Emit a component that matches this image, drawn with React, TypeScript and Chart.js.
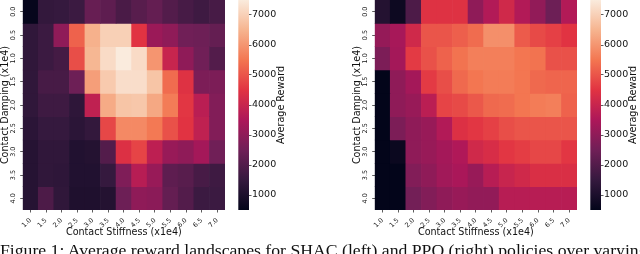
import React, { useEffect, useRef } from "react";
import { Chart, registerables } from "chart.js";

Chart.register(...registerables);

// ---------- data ----------
const stiffnessLabels = ["1.0", "1.5", "2.0", "2.5", "3.0", "3.5", "4.0", "4.5", "5.0", "5.5", "6.0", "6.5", "7.0"];
const dampingLabels = ["0.0", "0.5", "1.0", "1.5", "2.0", "2.5", "3.0", "3.5", "4.0"];
const colorbarTicks = [1000, 2000, 3000, 4000, 5000, 6000, 7000];
const rewardMin = 500;
const rewardMax = 7500;

// SHAC (left): rows = contact damping, columns = contact stiffness
const shacRewards = [
  [550, 1450, 1500, 1600, 2350, 2200, 1850, 2100, 2300, 2000, 1800, 1650, 1800],
  [1400, 1600, 3000, 5200, 6450, 7000, 7000, 4500, 3200, 3000, 2500, 2450, 2300],
  [1400, 1600, 1750, 4900, 6550, 7200, 7500, 7200, 6000, 4000, 3000, 2500, 2000],
  [1400, 1800, 1800, 2450, 6150, 6900, 7250, 7250, 6800, 5350, 4450, 2700, 2700],
  [1400, 1650, 1650, 1350, 3850, 6350, 6800, 6850, 6300, 5600, 4550, 3750, 2800],
  [1300, 1500, 1500, 1300, 1450, 4800, 5800, 5800, 5550, 4950, 4500, 3850, 2800],
  [1200, 1400, 1400, 1100, 1150, 2000, 4400, 4750, 3800, 3150, 3000, 3350, 2500],
  [1200, 1400, 1350, 1100, 1100, 1500, 2750, 3700, 3150, 2200, 2100, 1800, 1650],
  [1200, 1900, 1400, 1050, 1050, 1150, 2450, 3000, 2950, 2300, 2000, 1600, 1600],
];

// PPO (right)
const ppoRewards = [
  [1150, 700, 1900, 4450, 4450, 4450, 3000, 3600, 4150, 3600, 3050, 2450, 3600],
  [3100, 3400, 4150, 5000, 5000, 5150, 5350, 5900, 5900, 5100, 4850, 4700, 4500],
  [2700, 3350, 4600, 4950, 5200, 5450, 5650, 5650, 5650, 5500, 5450, 4950, 4950],
  [500, 3000, 3350, 4600, 4900, 5300, 5500, 5600, 5600, 5500, 5300, 5250, 5250],
  [500, 3000, 3150, 3750, 4750, 4850, 5050, 5300, 5350, 5500, 5600, 5650, 5200],
  [500, 2700, 3000, 3150, 3600, 4400, 4550, 4700, 4900, 5000, 5000, 5000, 5000],
  [500, 650, 3000, 3150, 3350, 3550, 4150, 4300, 4550, 4650, 4800, 4800, 4550],
  [500, 500, 2800, 3000, 3300, 3450, 3150, 3700, 4000, 4150, 4350, 4350, 4350],
  [500, 500, 2550, 2800, 3000, 3150, 3050, 3050, 3700, 3700, 3700, 3700, 3700],
];

const xTitle = "Contact Stiffness (x1e4)";
const yTitle = "Contact Damping (x1e4)";
const cbarTitle = "Average Reward";
const caption =
  "Figure 1: Average reward landscapes for SHAC (left) and PPO (right) policies over varying contact parameters";

// ---------- colormap (seaborn "rocket") ----------
const rocketStops = ["#03051a", "#35193e", "#701f57", "#ad1759", "#e13342", "#f37651", "#f6b48f", "#faebdd"];
const hexToRgb = (h: string) => [1, 3, 5].map((i) => parseInt(h.slice(i, i + 2), 16));
const rocketRgb = rocketStops.map(hexToRgb);

function rocketAt(t: number): string {
  const tt = Math.max(0, Math.min(1, t)) * (rocketRgb.length - 1);
  const i = Math.min(rocketRgb.length - 2, Math.floor(tt));
  const f = tt - i;
  const a = rocketRgb[i];
  const b = rocketRgb[i + 1];
  const c = a.map((v, k) => Math.round(v + (b[k] - v) * f));
  return `rgb(${c[0]},${c[1]},${c[2]})`;
}
const rocket = (v: number) => rocketAt((v - rewardMin) / (rewardMax - rewardMin));

// ---------- layout constants ----------
const FONT = "DejaVu Sans";
const HM_W = 230;
const H = 254;
const PLOT_LEFT = 22.7;
const PLOT_RIGHT = 225;
const PLOT_BOTTOM = 210;
const CB_W = 60;
const CB_LEFT = 8.3;
const CB_RIGHT = 19;

function Heatmap({ values, left }: { values: number[][]; left: number }) {
  const ref = useRef<HTMLCanvasElement>(null);
  useEffect(() => {
    const chart = new Chart(ref.current!, {
      type: "bar",
      data: {
        labels: stiffnessLabels,
        datasets: dampingLabels.map((d, r) => ({
          label: d,
          data: stiffnessLabels.map(() => 1),
          backgroundColor: values[r].map(rocket),
          borderWidth: 0,
          barPercentage: 1,
          categoryPercentage: 1,
        })),
      },
      options: {
        responsive: false,
        animation: false,
        events: [],
        layout: { padding: { left: 0, top: 0, right: HM_W - PLOT_RIGHT, bottom: 0 } },
        plugins: { legend: { display: false }, tooltip: { enabled: false } },
        scales: {
          x: {
            stacked: true,
            offset: true,
            border: { display: false },
            grid: {
              display: true,
              drawOnChartArea: false,
              drawTicks: true,
              tickLength: 2.5,
              color: "#333",
              lineWidth: 0.8,
              offset: false,
            },
            ticks: {
              autoSkip: false,
              minRotation: 45,
              maxRotation: 45,
              padding: 4,
              color: "#111",
              font: { family: FONT, size: 6.5 },
            },
            title: {
              display: true,
              text: xTitle,
              color: "#111",
              font: { family: FONT, size: 9.6, lineHeight: 1 },
              padding: { top: 0, bottom: 17 },
            },
            afterFit: (s: any) => {
              s.height = H - PLOT_BOTTOM;
              s.paddingLeft = 0;
              s.paddingRight = 0;
            },
          },
          y: {
            type: "linear",
            stacked: true,
            reverse: true,
            min: 0,
            max: dampingLabels.length,
            border: { display: false },
            grid: {
              display: true,
              drawOnChartArea: false,
              drawTicks: true,
              tickLength: 2.5,
              color: "#333",
              lineWidth: 0.8,
            },
            afterBuildTicks: (s: any) => {
              s.ticks = dampingLabels.map((_, i) => ({ value: i + 0.5 }));
            },
            ticks: {
              autoSkip: false,
              minRotation: 90,
              maxRotation: 90,
              crossAlign: "center",
              padding: 1.35,
              color: "#111",
              font: { family: FONT, size: 6.5 },
              callback: (_v: any, i: number) => dampingLabels[i],
            },
            title: {
              display: true,
              text: yTitle,
              color: "#111",
              font: { family: FONT, size: 9.6, lineHeight: 1 },
              padding: { top: 0.2, bottom: 0 },
            },
            afterFit: (s: any) => {
              s.width = PLOT_LEFT;
              s.paddingTop = 0;
              s.paddingBottom = 0;
            },
          },
        },
      } as any,
    });
    return () => chart.destroy();
  }, []);
  return (
    <canvas
      ref={ref}
      width={HM_W}
      height={H}
      style={{ position: "absolute", left, top: 0, width: HM_W, height: H }}
    />
  );
}

const cbarTitlePlugin = {
  id: "cbarTitle",
  afterDraw(chart: any) {
    const { ctx, chartArea } = chart;
    ctx.save();
    ctx.translate(51.5, (chartArea.top + chartArea.bottom) / 2);
    ctx.rotate(-Math.PI / 2);
    ctx.font = `9.6px ${FONT}`;
    ctx.fillStyle = "#111";
    ctx.textAlign = "center";
    ctx.textBaseline = "middle";
    ctx.fillText(cbarTitle, 0, 0);
    ctx.restore();
  },
};

function Colorbar({ left }: { left: number }) {
  const ref = useRef<HTMLCanvasElement>(null);
  useEffect(() => {
    const chart = new Chart(ref.current!, {
      type: "bar",
      data: {
        labels: [""],
        datasets: [
          {
            data: [[rewardMin, rewardMax]] as any,
            backgroundColor: (c: any) => {
              const area = c.chart.chartArea;
              if (!area) return "#000";
              const g = c.chart.ctx.createLinearGradient(0, area.bottom, 0, area.top);
              rocketStops.forEach((s, i) => g.addColorStop(i / (rocketStops.length - 1), s));
              return g;
            },
            borderWidth: 0,
            barPercentage: 1,
            categoryPercentage: 1,
          },
        ],
      },
      options: {
        responsive: false,
        animation: false,
        events: [],
        layout: { padding: { left: CB_LEFT, top: 0, right: 0, bottom: H - PLOT_BOTTOM } },
        plugins: { legend: { display: false }, tooltip: { enabled: false } },
        scales: {
          x: { display: false },
          y: {
            position: "right",
            min: rewardMin,
            max: rewardMax,
            border: { display: false },
            grid: {
              display: true,
              drawOnChartArea: false,
              drawTicks: true,
              tickLength: 2.5,
              color: "#333",
              lineWidth: 0.8,
            },
            afterBuildTicks: (s: any) => {
              s.ticks = colorbarTicks.map((v) => ({ value: v }));
            },
            ticks: {
              padding: 0.5,
              color: "#111",
              font: { family: FONT, size: 9.5 },
              callback: (v: any) => String(v),
            },
            afterFit: (s: any) => {
              s.width = CB_W - CB_RIGHT;
              s.paddingTop = 0;
              s.paddingBottom = 0;
            },
          },
        },
      } as any,
      plugins: [cbarTitlePlugin],
    });
    return () => chart.destroy();
  }, []);
  return (
    <canvas
      ref={ref}
      width={CB_W}
      height={H}
      style={{ position: "absolute", left, top: 0, width: CB_W, height: H }}
    />
  );
}

export default function App() {
  return (
    <div
      style={{
        position: "absolute",
        left: 0,
        top: 0,
        width: 640,
        height: 254,
        overflow: "hidden",
        background: "#fff",
      }}
    >
      <Heatmap values={shacRewards} left={0} />
      <Colorbar left={230} />
      <Heatmap values={ppoRewards} left={352} />
      <Colorbar left={582} />
      <div
        style={{
          position: "absolute",
          left: 0,
          top: 241.5,
          fontFamily: "'Liberation Serif', serif",
          fontSize: 17.7,
          lineHeight: "17.7px",
          whiteSpace: "nowrap",
          color: "#111",
        }}
      >
        {caption}
      </div>
    </div>
  );
}
